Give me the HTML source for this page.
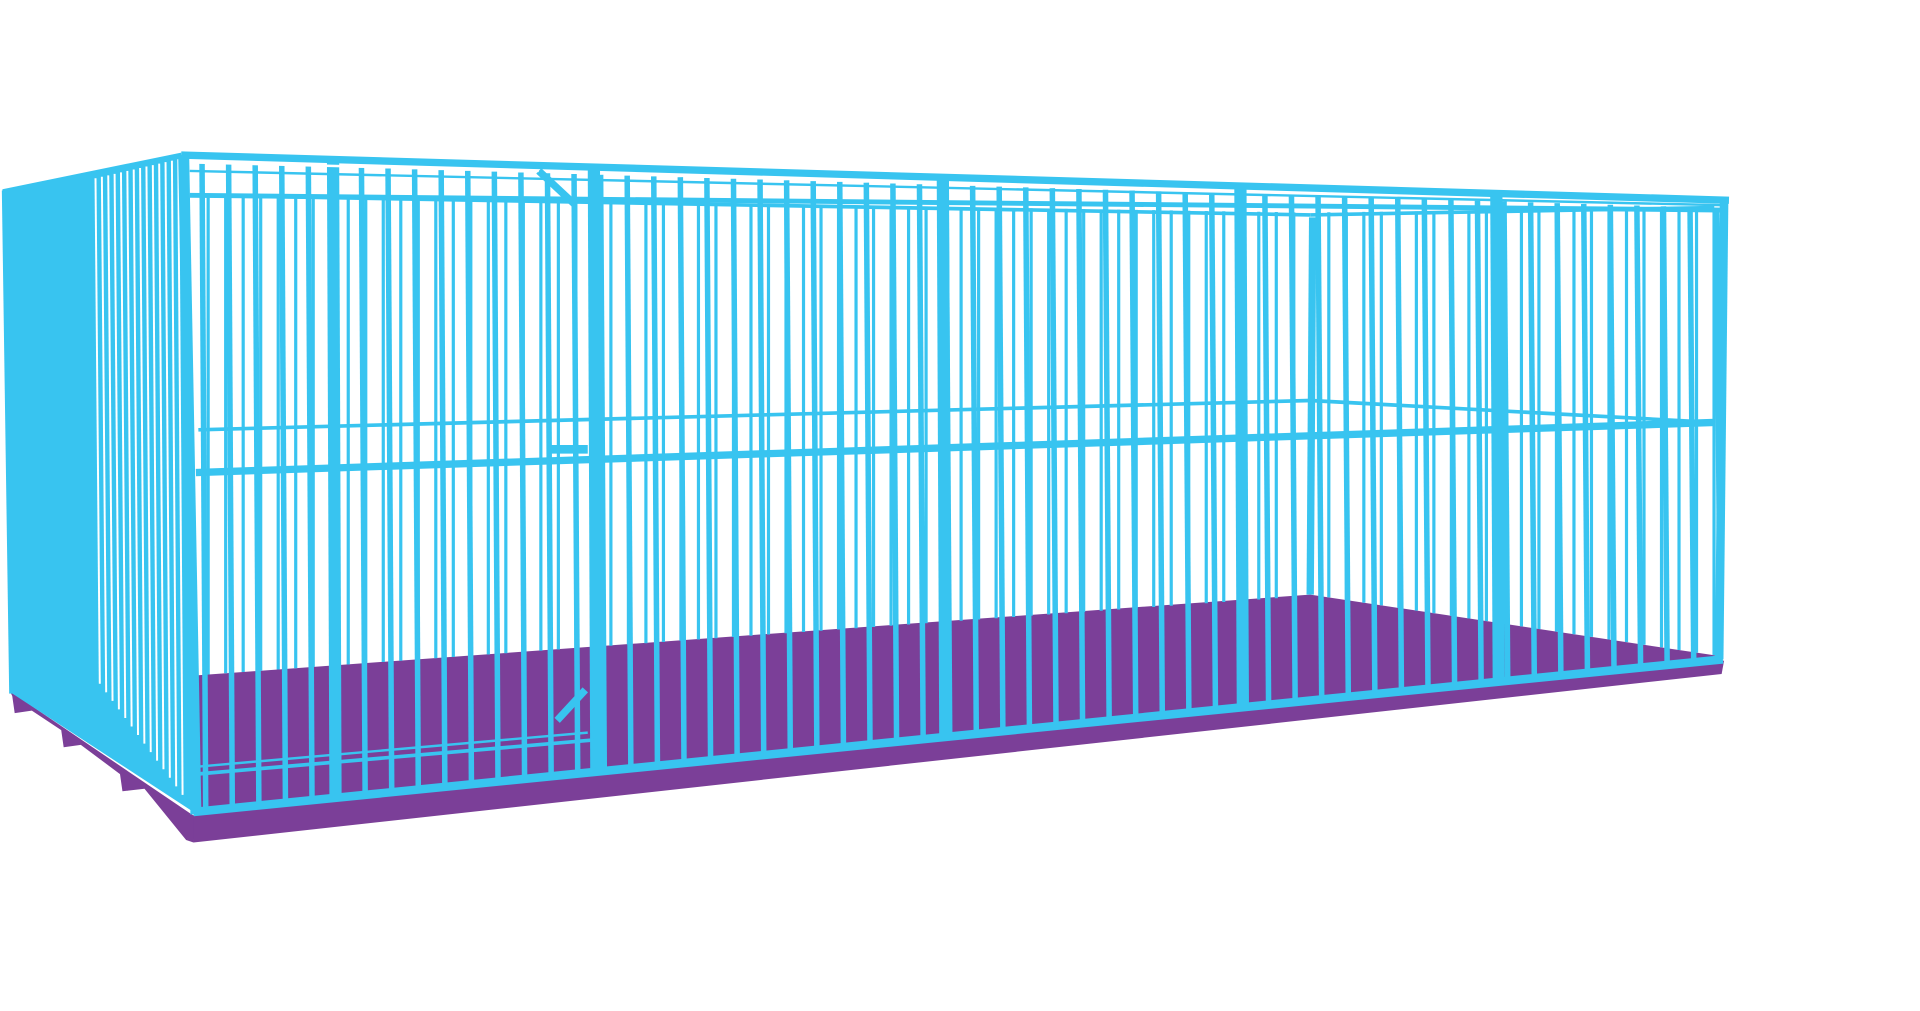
<!DOCTYPE html>
<html><head><meta charset="utf-8"><style>
html,body{margin:0;padding:0;background:#fff;width:1920px;height:1011px;overflow:hidden}
svg{display:block}
</style></head><body>
<svg id="s" width="1920" height="1011" viewBox="0 0 1568 828" preserveAspectRatio="none" xmlns="http://www.w3.org/2000/svg">
<rect width="1568" height="828" fill="#fff"/>
<polygon points="155,668 1408,541 1406,552 158,690" fill="#7b3f98"/>
<polygon points="8,566 158,668 158,690 152,688 118,646 100,648 98,634 66,610 52,612 50,598 26,582 12,584 10,570" fill="#7b3f98"/>
<polygon points="162,553 1070,487 1402,537 1402,542 160,662" fill="#7b3f98"/>
<polygon points="2,155 148,125 158,665 10,568" fill="#38c4f0"/>
<g id="g"></g>
</svg>
<script>
var g=document.getElementById('g'),C='#38c4f0',NS='http://www.w3.org/2000/svg';
function L(x1,y1,x2,y2,w,c){var l=document.createElementNS(NS,'line');l.setAttribute('x1',x1);l.setAttribute('y1',y1);l.setAttribute('x2',x2);l.setAttribute('y2',y2);l.setAttribute('stroke',c||C);l.setAttribute('stroke-width',w);g.appendChild(l);}
function topF(x){return 127+(x-148)*0.0297;}
function botF(x){return 665-(x-158)*0.1005;}
function backTop(x){return x<=1070?160+(x-160)*0.0155:174-(x-1070)*0.01;}
function backBot(x){return x<=1070?553-(x-162)*0.0716:487+(x-1070)*0.1506;}
for(var i=0;i<14;i++){var x=78+i*5.2;var t=142-i*1.2;L(x,t+4,x+3.5,560+i*7,1.6,'#fff');}
for(var x=170;x<1400;x+=14.3){if(x>1066&&x<1078)continue;L(x,backTop(x),x,backBot(x),2.6);}
L(1072,178,1070,487,6);
L(162,352,1070,328,3);L(1070,328,1400,346,3);
L(162,160,1070,176,3);L(1070,176,1400,170,3);
for(var x=165;x<1402;x+=21.7){L(x,topF(x)+6,x+3,botF(x+3),4.5);}
[272,485,770,1013,1222].forEach(function(x){L(x,topF(x),x+2,botF(x+2),10);});
L(148,127,1412,164,6);
L(155,160,1405,172,4);
L(155,140,1405,168,2);
L(160,387,1400,346,6);
L(158,665,1407,540,7);
L(160,634,485,606,3);
L(160,628,480,600,2);
L(150,127,160,667,9);
L(1408,164,1404,540,7);
L(4,156,10,568,5);
L(440,140,470,168,6);L(455,590,478,565,6);L(450,368,480,368,7);
L(155,133,440,140,2,'#fff');
</script>
</body></html>
